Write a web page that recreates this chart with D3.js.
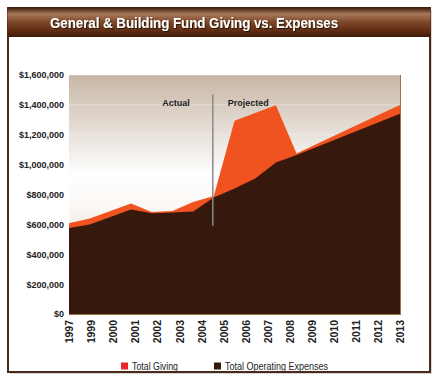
<!DOCTYPE html>
<html><head><meta charset="utf-8">
<script src="https://cdn.jsdelivr.net/npm/d3@7"></script>
<style>html,body{margin:0;padding:0;background:#fff;}svg{display:block;font-family:"Liberation Sans",Arial,sans-serif;}</style>
</head><body>
<script>
const title = "General & Building Fund Giving vs. Expenses";
const dataYears = ["1997","1998","1999","2000","2001","2002","2003","2004","2005","2006","2007","2008","2009","2010","2011","2012","2013"];
const totalGiving = [607000,640000,690000,740000,683000,690000,750000,790000,1293000,1345000,1397000,1075000,1140000,1205000,1270000,1335000,1400000];
const totalExpenses = [576000,600000,650000,700000,675000,680000,687000,780000,840000,907000,1015000,1065000,1120000,1175000,1230000,1285000,1340000];
const tickLabels = ["1997","1999","2000","2001","2002","2003","2004","2005","2006","2007","2008","2009","2010","2011","2012","2013"];
const yTicks = [0,200000,400000,600000,800000,1000000,1200000,1400000,1600000];
const seriesNames = ["Total Giving","Total Operating Expenses"];
const annotations = ["Actual","Projected"];
const dividerYear = "2004";

const W=440,H=392;
const svg=d3.select("body").append("svg").attr("width",W).attr("height",H);
const defs=svg.append("defs");
const tg=defs.append("linearGradient").attr("id","tbar").attr("x1",0).attr("y1",0).attr("x2",0).attr("y2",1);
[[0,"#3a1808"],[0.22,"#a7785c"],[0.5,"#7d4626"],[0.8,"#5e2c12"],[1,"#3e1a0a"]].forEach(s=>tg.append("stop").attr("offset",s[0]).attr("stop-color",s[1]));
const bg=defs.append("linearGradient").attr("id","pbg").attr("x1",0).attr("y1",0).attr("x2",0).attr("y2",1);
[[0,"#c7b6a5"],[0.42,"#ffffff"],[0.55,"#fbf8f5"],[1,"#c9b8a7"]].forEach(s=>bg.append("stop").attr("offset",s[0]).attr("stop-color",s[1]));
const sh=defs.append("filter").attr("id","ts").attr("x","-5%").attr("y","-20%").attr("width","110%").attr("height","150%");
sh.append("feDropShadow").attr("dx",1).attr("dy",1).attr("stdDeviation",0.6).attr("flood-color","#1a0800").attr("flood-opacity",0.8);

// frame shadow + frame
svg.append("rect").attr("x",10).attr("y",10).attr("width",422).attr("height",364).attr("fill","#bbb").attr("opacity",0.6);
svg.append("rect").attr("x",8).attr("y",8).attr("width",422).attr("height",364).attr("fill","#fff").attr("stroke","#4a2a1a").attr("stroke-width",2);
svg.append("rect").attr("x",7.5).attr("y",7.5).attr("width",423).attr("height",29.5).attr("fill","url(#tbar)");
svg.append("text").attr("x",50).attr("y",28).attr("fill","#fff").attr("font-weight","bold").attr("font-size",14)
  .attr("textLength",288).attr("lengthAdjust","spacingAndGlyphs")
  .attr("filter","url(#ts)").text(title);

const x0=69,x1=400,yTop=75,yBot=314;
const xD=d3.scalePoint().domain(dataYears).range([x0,x1]);
const xL=d3.scalePoint().domain(tickLabels).range([x0,x1]);
const y=d3.scaleLinear().domain([0,1600000]).range([yBot,yTop]);

svg.append("rect").attr("x",x0).attr("y",yTop).attr("width",x1-x0).attr("height",yBot-yTop).attr("fill","url(#pbg)");
svg.append("g").selectAll("line").data(yTicks.slice(1)).join("line")
  .attr("x1",x0).attr("x2",x1).attr("y1",d=>y(d)).attr("y2",d=>y(d)).attr("stroke","#fff").attr("stroke-opacity",0.35);

const area=vals=>d3.area().x((d,i)=>xD(dataYears[i])).y0(y(0)).y1(d=>y(d))(vals);
svg.append("path").attr("d",area(totalGiving)).attr("fill","#f0531f");
svg.append("path").attr("d",area(totalExpenses)).attr("fill","#36190c");

// plot edges
svg.append("line").attr("x1",x0).attr("x2",x1+0.5).attr("y1",yBot+0.5).attr("y2",yBot+0.5).attr("stroke","#a0704c");
svg.append("line").attr("x1",x1+0.5).attr("x2",x1+0.5).attr("y1",yTop).attr("y2",yBot+1).attr("stroke","#a0704c");

// divider & annotations
const dx=xD(dividerYear)-1;
svg.append("line").attr("x1",dx).attr("x2",dx).attr("y1",y(1470000)).attr("y2",y(590000)).attr("stroke","#8a8a8a").attr("stroke-width",1.5);
svg.append("text").attr("x",dx-23).attr("y",y(1390000)).attr("text-anchor","end").attr("font-weight","bold").attr("font-size",9).attr("fill","#222").text(annotations[0]);
svg.append("text").attr("x",dx+15).attr("y",y(1390000)).attr("font-weight","bold").attr("font-size",9).attr("fill","#222").text(annotations[1]);

// y axis
const fmt=d=>"$"+d3.format(",")(d);
const ya=svg.append("g").attr("transform",`translate(${x0-5},0)`).call(d3.axisLeft(y).tickValues(yTicks).tickFormat(fmt).tickSize(0).tickPadding(0));
ya.select(".domain").remove();
ya.selectAll("text").attr("font-family","'Liberation Sans',Arial,sans-serif").attr("font-weight","bold").attr("font-size",9).attr("fill","#222");

// x axis
const xa=svg.append("g").attr("transform",`translate(0,${yBot+5})`).call(d3.axisBottom(xL).tickSize(0).tickPadding(0));
xa.select(".domain").remove();
xa.selectAll("text").attr("font-family","'Liberation Sans',Arial,sans-serif").attr("font-weight","bold").attr("font-size",10.5).attr("fill","#222")
  .attr("transform","rotate(-90)").attr("text-anchor","end").attr("dx",0).attr("dy","0.35em").attr("x",-1).attr("y",0);

// legend
const lg=svg.append("g");
const lx=[121,214], lc=["#e8262a","#36190c"], lw=[46,103];
seriesNames.forEach((n,i)=>{
  lg.append("rect").attr("x",lx[i]).attr("y",362.5).attr("width",7).attr("height",7).attr("fill",lc[i]);
  lg.append("text").attr("x",lx[i]+11).attr("y",370).attr("font-size",10.5).attr("fill","#222")
    .attr("textLength",lw[i]).attr("lengthAdjust","spacingAndGlyphs").text(n);
});
</script>
</body></html>
